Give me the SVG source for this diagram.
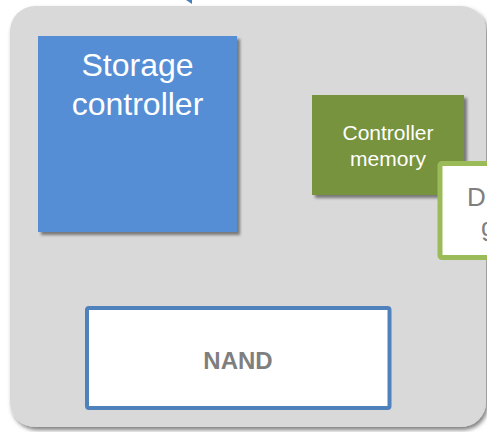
<svg xmlns="http://www.w3.org/2000/svg" width="487" height="432" viewBox="0 0 487 432">
  <defs>
    <filter id="shadow" x="-10%" y="-10%" width="125%" height="125%">
      <feDropShadow dx="3" dy="3" stdDeviation="1.5" flood-color="#000" flood-opacity="0.45"/>
    </filter>
    <filter id="panelShadow" x="-5%" y="-5%" width="115%" height="115%">
      <feDropShadow dx="2" dy="3" stdDeviation="2" flood-color="#000" flood-opacity="0.5"/>
    </filter>
    <marker id="arrow" viewBox="0 0 8 6" refX="4" refY="6" markerWidth="8" markerHeight="6" markerUnits="userSpaceOnUse" orient="auto-start-reverse">
      <path d="M0,0 L8,0 L4,6 Z" fill="#4a7ebb"/>
    </marker>
    <style>
      .label { font-family: "Liberation Sans", Arial, sans-serif; text-anchor: middle; }
      .white { fill: #ffffff; }
      .grey { fill: #7f7f7f; }
    </style>
  </defs>

  <!-- drive enclosure panel -->
  <g id="enclosure">
    <rect x="10" y="6" width="476" height="421" rx="25" ry="25" fill="#d9d9d9" filter="url(#panelShadow)"/>
  </g>

  <!-- incoming host link -->
  <g id="connectors">
    <line x1="186" y1="-20" x2="186" y2="0" stroke="#4a7ebb" stroke-width="1.5" marker-end="url(#arrow)"/>
  </g>

  <g id="storage-controller">
    <rect x="38" y="36" width="199" height="196" fill="#558ed5" filter="url(#shadow)"/>
    <text class="label white" font-size="32" x="137.5" y="76">Storage</text>
    <text class="label white" font-size="32" x="137.5" y="115">controller</text>
  </g>

  <g id="controller-memory">
    <rect x="312" y="95" width="152" height="100" fill="#77933c" filter="url(#shadow)"/>
    <text class="label white" font-size="21" x="388" y="140">Controller</text>
    <text class="label white" font-size="21" x="388" y="166">memory</text>
  </g>

  <g id="data-box">
    <rect x="440" y="163.5" width="60" height="94" rx="2" fill="#ffffff" stroke="#9bbb59" stroke-width="5"/>
    <text class="grey" font-family="Liberation Sans, Arial, sans-serif" font-size="26" x="467" y="206">D</text>
    <text class="grey" font-family="Liberation Sans, Arial, sans-serif" font-size="26" x="481" y="236">g</text>
  </g>

  <g id="nand">
    <rect x="87" y="308" width="302.5" height="100" rx="2" fill="#ffffff" stroke="#4f81bd" stroke-width="4"/>
    <text class="label grey" font-size="24" font-weight="bold" x="238" y="369">NAND</text>
  </g>
</svg>
